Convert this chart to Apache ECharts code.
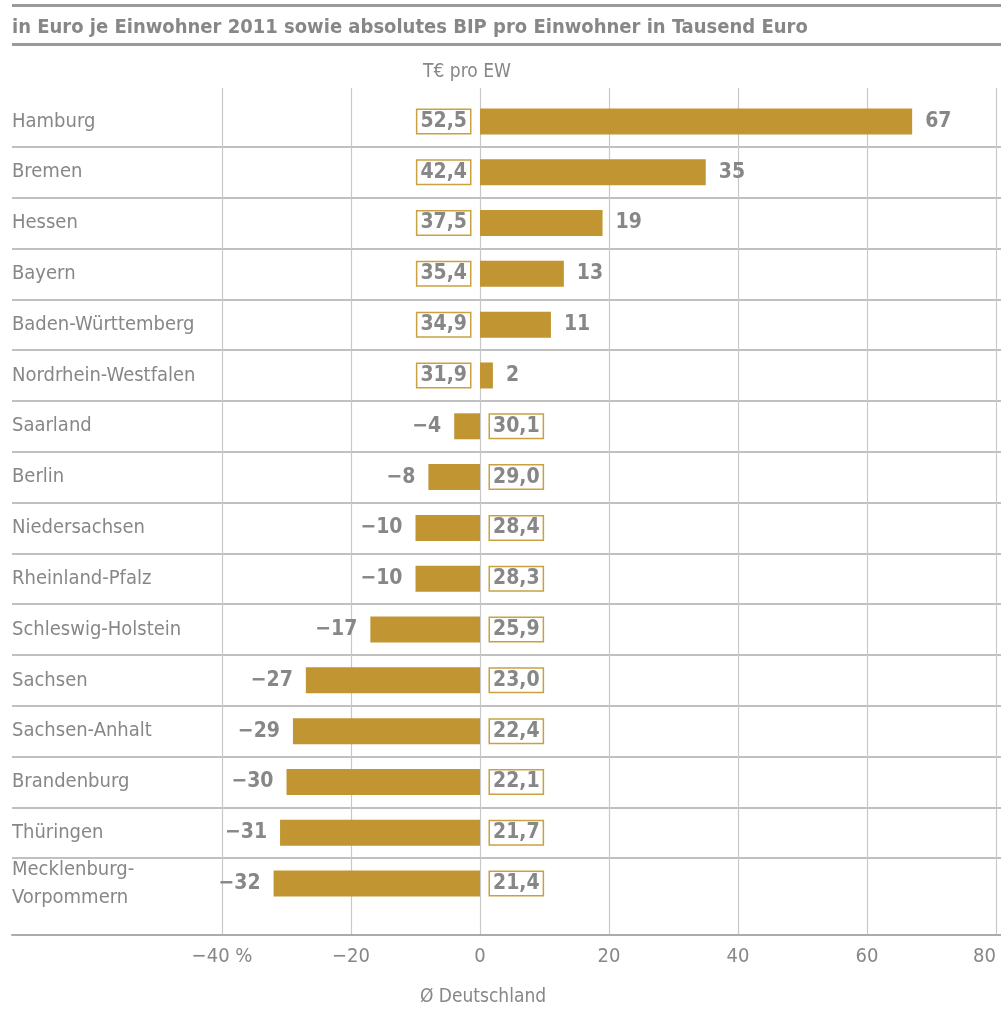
<!DOCTYPE html>
<html>
<head>
<meta charset="utf-8">
<script src="https://cdn.jsdelivr.net/npm/echarts@6/dist/echarts.min.js"></script>
<style>
html,body{margin:0;padding:0;background:#fff;}
#chart{width:1001px;height:1010px;}
</style>
</head>
<body>
<div id="chart"></div>
<script>
// ---- data ----
const categories = ['Hamburg','Bremen','Hessen','Bayern','Baden-Württemberg','Nordrhein-Westfalen','Saarland','Berlin','Niedersachsen','Rheinland-Pfalz','Schleswig-Holstein','Sachsen','Sachsen-Anhalt','Brandenburg','Thüringen','Mecklenburg-\nVorpommern'];
const deviation = [67, 35, 19, 13, 11, 2, -4, -8, -10, -10, -17, -27, -29, -30, -31, -32];
const bipPerCapita = [52.5, 42.4, 37.5, 35.4, 34.9, 31.9, 30.1, 29.0, 28.4, 28.3, 25.9, 23.0, 22.4, 22.1, 21.7, 21.4];
const xTicks = { min: -40, max: 80, interval: 20 };
const titleText = 'in Euro je Einwohner 2011 sowie absolutes BIP pro Einwohner in Tausend Euro';
const unitText = 'T€ pro EW';
const axisNameText = 'Ø Deutschland';

// ---- styles ----
const FONT = "'Liberation Sans Narrow','DejaVu Sans Condensed','Roboto','Noto Sans',sans-serif";
const GRAY = '#878787';
const GOLD = '#c09532';
const BOX = '#c9a140';
const GRID = '#c8c8c8';
const SEP = '#ababab';

const minus = v => (v < 0 ? '\u2212' + Math.abs(v) : String(v));

const chart = echarts.init(document.getElementById('chart'));

const rowTop = 96, rowBottom = 101;   // band area
const fullTop = 88, fullBottom = 75;  // gridline area

const option = {
  animation: false,
  textStyle: { fontFamily: FONT },
  graphic: [
    { type: 'rect', shape: { x: 12, y: 4, width: 989, height: 3 }, style: { fill: '#9a9a9a' } },
    { type: 'rect', shape: { x: 12, y: 43, width: 989, height: 3 }, style: { fill: '#9a9a9a' } },
    { type: 'text', x: 467, y: 72, style: { text: unitText, font: '19px ' + FONT, fill: GRAY, textAlign: 'center', textVerticalAlign: 'middle' } },
    { type: 'text', x: 483, y: 997, style: { text: axisNameText, font: '19px ' + FONT, fill: GRAY, textAlign: 'center', textVerticalAlign: 'middle' } }
  ],
  title: {
    text: titleText, left: 7, top: 13,
    textStyle: { fontFamily: FONT, fontSize: 20, fontWeight: 'bold', color: GRAY }
  },
  grid: [
    { left: 12, right: 0, top: fullTop, bottom: fullBottom, outerBoundsMode: 'none', containLabel: false },
    { left: 12, right: 0, top: rowTop, bottom: rowBottom, outerBoundsMode: 'none', containLabel: false },
    { left: 222, right: 5, top: fullTop, bottom: fullBottom, outerBoundsMode: 'none', containLabel: false },
    { left: 222, right: 5, top: rowTop, bottom: rowBottom, outerBoundsMode: 'none', containLabel: false }
  ],
  xAxis: [
    { gridIndex: 0, type: 'value', min: 0, max: 1,
      axisLine: { show: true, lineStyle: { color: SEP, width: 2 } },
      axisTick: { show: false }, axisLabel: { show: false }, splitLine: { show: false } },
    { gridIndex: 1, type: 'value', min: 0, max: 1, show: false },
    { gridIndex: 2, type: 'value', min: xTicks.min, max: xTicks.max, interval: xTicks.interval,
      axisLine: { show: false }, axisTick: { show: false },
      splitLine: { show: true, lineStyle: { color: GRID, width: 1.2 } },
      axisLabel: { color: GRAY, fontSize: 20, fontFamily: FONT, margin: 12, hideOverlap: false,
        alignMaxLabel: 'right',
        formatter: v => (v === xTicks.min ? minus(v) + ' %' : minus(v)) } },
    { gridIndex: 3, type: 'value', min: xTicks.min, max: xTicks.max, interval: xTicks.interval, show: false }
  ],
  yAxis: [
    { gridIndex: 0, type: 'value', show: false },
    { gridIndex: 1, type: 'category', inverse: true, data: categories,
      axisLine: { show: false }, axisTick: { show: false },
      splitLine: { show: true, showMinLine: false, showMaxLine: false, lineStyle: { color: SEP, width: 1.6 } },
      axisLabel: { inside: true, margin: 0, color: GRAY, fontSize: 20, fontFamily: FONT, lineHeight: 28, align: 'left' } },
    { gridIndex: 2, type: 'value', show: false },
    { gridIndex: 3, type: 'category', inverse: true, data: categories, show: false }
  ],
  series: [
    {
      type: 'bar', xAxisIndex: 3, yAxisIndex: 3, barWidth: 26,
      itemStyle: { color: GOLD },
      data: deviation.map(v => ({ value: v, label: { position: v >= 0 ? 'right' : 'left' } })),
      label: { show: true, distance: 13, color: GRAY, fontSize: 21, fontWeight: 'bold', fontFamily: FONT,
        formatter: p => minus(p.value) }
    },
    {
      type: 'bar', xAxisIndex: 3, yAxisIndex: 3, barWidth: 26, barGap: '-100%', silent: true,
      itemStyle: { color: 'rgba(0,0,0,0)' },
      data: deviation.map(v => ({ value: v, label: { position: v >= 0 ? 'left' : 'right' } })),
      label: { show: true, distance: 10, color: GRAY, fontSize: 21, fontWeight: 'bold', fontFamily: FONT,
        borderColor: BOX, borderWidth: 1.5, padding: [2, 3, 0, 3], backgroundColor: '#fff',
        formatter: p => bipPerCapita[p.dataIndex].toFixed(1).replace('.', ',') }
    }
  ]
};
chart.setOption(option);
</script>
</body>
</html>
